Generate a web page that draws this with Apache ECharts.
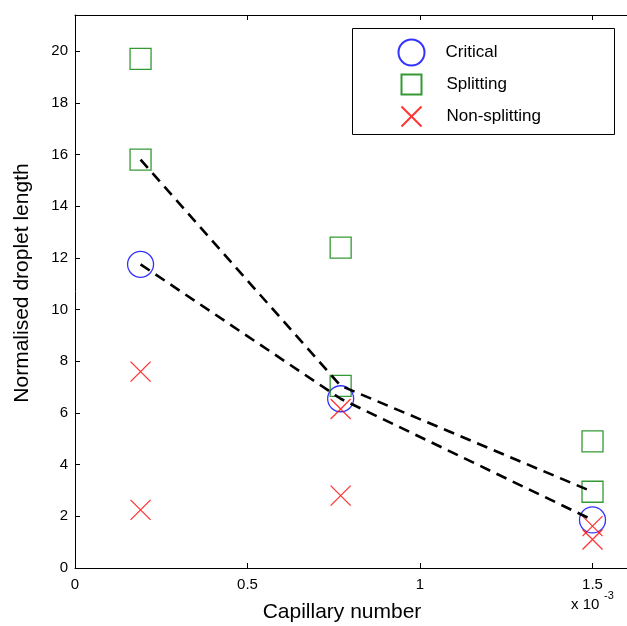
<!DOCTYPE html>
<html>
<head>
<meta charset="utf-8">
<script src="https://cdn.jsdelivr.net/npm/echarts@6/dist/echarts.min.js"></script>
<style>
  html, body { margin: 0; padding: 0; background: #fff; }
  #chart { width: 627px; height: 626px; }
</style>
</head>
<body>
<div id="chart"></div>
<script>
// capillary number (x 10^-3)
const capillary = [0.19, 0.77, 1.5];
const critical = [11.75, 6.55, 1.86];
const upperBound = [15.8, 7.05, 2.95];

const splittingCa = [0.19, 0.19, 0.77, 0.77, 1.5, 1.5];
const splitting = [19.7, 15.8, 12.4, 7.05, 4.9, 2.95];

const nonSplittingCa = [0.19, 0.19, 0.77, 0.77, 1.5, 1.5];
const nonSplitting = [7.6, 2.25, 6.15, 2.8, 1.62, 1.1];

const xTicks = [0, 0.5, 1, 1.5];

const FONT = "'Liberation Sans', Arial, Helvetica, sans-serif";
const CROSS = 'path://M0,0L10,10M10,0L0,10';

function pairs(xs, ys) {
    return xs.map((x, i) => [x, ys[i]]);
}

let myChart = echarts.init(document.getElementById('chart'));

const tickStyle = { inside: true, length: 5, lineStyle: { color: '#000', width: 1 } };

function legendFor(name, top, size, pad) {
    return {
        data: [name],
        orient: 'vertical',
        left: 409 - size / 2,
        top: top - size / 2,
        itemWidth: size,
        itemHeight: size,
        padding: 0,
        selectedMode: false,
        textStyle: {
            fontFamily: FONT,
            fontSize: 17,
            color: '#000',
            padding: [0, 0, 0, pad]
        }
    };
}

const option = {
    animation: false,
    backgroundColor: '#fff',
    grid: {
        left: 75,
        top: 15,
        width: 554,
        height: 553,
        show: false
    },
    legend: [
        legendFor('Critical', 50, 26, 16),
        legendFor('Splitting', 82, 20, 20),
        legendFor('Non-splitting', 114, 20, 20)
    ],
    graphic: [
        {
            type: 'rect',
            shape: { x: 352.5, y: 28.5, width: 262, height: 106 },
            style: { fill: '#fff', stroke: '#000', lineWidth: 1 },
            z: 1
        },
        {
            type: 'text',
            x: 342,
            y: 612,
            style: {
                text: 'Capillary number', font: '21px ' + FONT, fill: '#000',
                align: 'center', verticalAlign: 'middle'
            }
        },
        {
            type: 'text',
            x: 22,
            y: 283,
            rotation: Math.PI / 2,
            style: {
                text: 'Normalised droplet length', font: '21px ' + FONT, fill: '#000',
                align: 'center', verticalAlign: 'middle'
            }
        },
        {
            type: 'text',
            left: 571,
            top: 597,
            style: { text: 'x 10', font: '15px ' + FONT, fill: '#000' }
        },
        {
            type: 'text',
            left: 604,
            top: 590,
            style: { text: '-3', font: '11px ' + FONT, fill: '#000' }
        }
    ],
    xAxis: [
        {
            type: 'value',
            min: 0,
            max: 1.6,
            interval: 0.5,
            axisLine: { show: true, lineStyle: { color: '#000', width: 1 } },
            axisTick: tickStyle,
            axisLabel: {
                fontFamily: FONT, fontSize: 15, color: '#000', margin: 9,
                showMaxLabel: false,
                formatter: v => (xTicks.indexOf(v) >= 0 ? String(v) : '')
            },
            splitLine: { show: false }
        },
        {
            type: 'value',
            position: 'top',
            min: 0,
            max: 1.6,
            interval: 0.5,
            axisLine: { show: true, lineStyle: { color: '#000', width: 1 } },
            axisTick: tickStyle,
            axisLabel: { show: false },
            splitLine: { show: false }
        }
    ],
    yAxis: [
        {
            type: 'value',
            min: 0,
            max: 21.4,
            interval: 2,
            axisLine: { show: true, lineStyle: { color: '#000', width: 1 } },
            axisTick: tickStyle,
            axisLabel: { fontFamily: FONT, fontSize: 15, color: '#000', margin: 7, showMaxLabel: false },
            splitLine: { show: false }
        }
    ],
    series: [
        {
            name: 'Critical',
            type: 'scatter',
            symbol: 'circle',
            symbolSize: 26,
            itemStyle: { color: 'none', borderColor: '#0000ff', borderWidth: 1.3 },
            data: pairs(capillary, critical),
            z: 3
        },
        {
            name: 'Splitting',
            type: 'scatter',
            symbol: 'rect',
            symbolSize: 21,
            itemStyle: { color: 'none', borderColor: '#008000', borderWidth: 1.3 },
            data: pairs(splittingCa, splitting),
            z: 3
        },
        {
            name: 'Non-splitting',
            type: 'scatter',
            symbol: CROSS,
            symbolSize: 20,
            itemStyle: { color: 'none', borderColor: '#ff0000', borderWidth: 1.3 },
            data: pairs(nonSplittingCa, nonSplitting),
            z: 3
        },
        {
            name: 'upper',
            type: 'line',
            symbol: 'none',
            lineStyle: { color: '#000', width: 2.6, type: [11, 7] },
            data: pairs(capillary, upperBound),
            z: 4
        },
        {
            name: 'lower',
            type: 'line',
            symbol: 'none',
            lineStyle: { color: '#000', width: 2.6, type: [11, 7] },
            data: pairs(capillary, critical),
            z: 4
        }
    ]
};
option && myChart.setOption(option);
</script>
</body>
</html>
